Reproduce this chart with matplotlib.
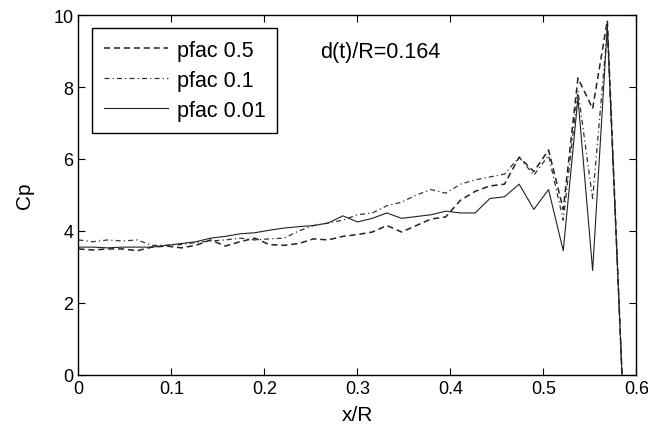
import matplotlib
matplotlib.use("Agg")
import matplotlib.pyplot as plt

plt.rcParams['font.family'] = ['Liberation Sans', 'DejaVu Sans']

# x/R positions of the computed stations
x_r = [0.0, 0.0158, 0.0316, 0.0474, 0.0632, 0.079, 0.0948, 0.1106, 0.1264, 0.1422,
       0.158, 0.1738, 0.1896, 0.2054, 0.2212, 0.237, 0.2528, 0.2686, 0.2844, 0.3002,
       0.316, 0.3318, 0.3476, 0.3634, 0.3792, 0.395, 0.4108, 0.4266, 0.4424, 0.4582,
       0.474, 0.4898, 0.5056, 0.5214, 0.5372, 0.553, 0.5688, 0.5846]

cp_pfac05 = [3.5, 3.47, 3.5, 3.5, 3.45, 3.55, 3.58, 3.53, 3.6, 3.75,
             3.58, 3.7, 3.8, 3.62, 3.6, 3.65, 3.78, 3.75, 3.85, 3.9,
             3.97, 4.15, 3.97, 4.15, 4.33, 4.39, 4.85, 5.1, 5.25, 5.3,
             6.05, 5.65, 6.25, 4.6, 8.25, 7.4, 9.85, 0.0]

cp_pfac01 = [3.75, 3.7, 3.75, 3.72, 3.75, 3.6, 3.6, 3.62, 3.68, 3.72,
             3.75, 3.8, 3.75, 3.78, 3.8, 4.0, 4.15, 4.22, 4.3, 4.45,
             4.5, 4.7, 4.8, 5.0, 5.15, 5.05, 5.3, 5.42, 5.5, 5.58,
             6.05, 5.55, 6.1, 4.3, 7.9, 4.9, 9.6, 0.0]

cp_pfac001 = [3.55, 3.55, 3.53, 3.55, 3.55, 3.55, 3.6, 3.65, 3.7, 3.8,
              3.85, 3.92, 3.95, 4.02, 4.08, 4.12, 4.15, 4.22, 4.42, 4.25,
              4.35, 4.5, 4.35, 4.4, 4.45, 4.55, 4.5, 4.5, 4.9, 4.95,
              5.3, 4.6, 5.15, 3.45, 7.7, 2.9, 9.7, 0.0]

fig = plt.figure(figsize=(6.48, 4.35), dpi=100)
ax = fig.add_axes([0.121, 0.136, 0.861, 0.827])

ax.plot(x_r, cp_pfac05, color='#222222', lw=1.1, ls=(0, (4, 2.5)), label='pfac 0.5')
ax.plot(x_r, cp_pfac01, color='#333333', lw=0.9, ls=(0, (4, 2.5, 1, 2.5)), label='pfac 0.1')
ax.plot(x_r, cp_pfac001, color='#222222', lw=0.8, ls='-', label='pfac 0.01')

ax.set_xlim(0, 0.6)
ax.set_ylim(0, 10)
ax.set_xticks([0, 0.1, 0.2, 0.3, 0.4, 0.5, 0.6])
ax.set_xticklabels(['0', '0.1', '0.2', '0.3', '0.4', '0.5', '0.6'])
ax.set_yticks([0, 2, 4, 6, 8, 10])
ax.tick_params(direction='in', top=True, right=True, labelsize=13, length=5, width=0.8)
for sp in ax.spines.values():
    sp.set_linewidth(1.0)

ax.set_xlabel('x/R', fontsize=15, labelpad=6)
ax.set_ylabel('Cp', fontsize=15, labelpad=14)

ax.text(0.433, 0.883, 'd(t)/R=0.164', transform=ax.transAxes, fontsize=15.5)

leg = ax.legend(loc='upper left', bbox_to_anchor=(0.024, 0.964), fontsize=15.5,
                handlelength=3.0, handletextpad=0.4, fancybox=False, framealpha=1,
                edgecolor='black', borderpad=0.55, labelspacing=0.42, borderaxespad=0)
leg.get_frame().set_linewidth(1.0)

fig.savefig('out.png', dpi=100)
